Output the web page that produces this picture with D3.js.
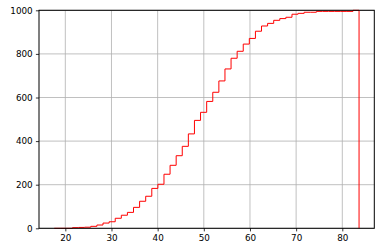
<!DOCTYPE html>
<html>
<head>
<meta charset="utf-8">
<script src="https://cdn.jsdelivr.net/npm/d3@7"></script>
<style>
  html, body { margin: 0; padding: 0; background: #fff; }
  svg { display: block; }
  text { font-family: "DejaVu Sans", sans-serif; font-size: 8.8px; fill: #000; }
</style>
</head>
<body>
<svg id="chart" width="381" height="252"></svg>
<script>
// Bin edges of the cumulative histogram (50 bins)
const binEdges = [17.60, 18.92, 20.24, 21.56, 22.88, 24.20, 25.52, 26.84, 28.16, 29.49,
  30.81, 32.13, 33.45, 34.77, 36.09, 37.41, 38.73, 40.05, 41.37, 42.69,
  44.01, 45.33, 46.65, 47.97, 49.29, 50.62, 51.94, 53.26, 54.58, 55.90,
  57.22, 58.54, 59.86, 61.18, 62.50, 63.82, 65.14, 66.46, 67.78, 69.10,
  70.42, 71.74, 73.07, 74.39, 75.71, 77.03, 78.35, 79.67, 80.99, 82.31, 83.63];
// Cumulative counts per bin
const cumCounts = [0, 0, 0, 3, 4, 5, 9, 15, 24, 30,
  46, 60, 73, 96, 124, 147, 183, 202, 248, 289,
  333, 376, 433, 495, 532, 582, 624, 676, 731, 780,
  812, 845, 871, 904, 928, 940, 954, 962, 968, 982,
  986, 991, 991, 995, 995, 995, 995, 995, 995, 1000];
const xTicks = [20, 30, 40, 50, 60, 70, 80];
const yTicks = [0, 200, 400, 600, 800, 1000];

const svg = d3.select("#chart");
const L = 39, R = 374.3, T = 10.3, B = 228.3;

const e0 = d3.min(binEdges), e1 = d3.max(binEdges);
const m = (e1 - e0) * 0.05;
const x = d3.scaleLinear().domain([e0 - m, e1 + m]).range([L, R]);
const y = d3.scaleLinear().domain([0, 1000]).range([B, T]);

// grid
const g = svg.append("g");
g.selectAll("line.gx").data(xTicks).enter().append("line")
  .attr("x1", d => x(d)).attr("x2", d => x(d)).attr("y1", T).attr("y2", B)
  .attr("stroke", "#b0b0b0").attr("stroke-width", 0.8);
g.selectAll("line.gy").data(yTicks).enter().append("line")
  .attr("x1", L).attr("x2", R).attr("y1", d => y(d)).attr("y2", d => y(d))
  .attr("stroke", "#b0b0b0").attr("stroke-width", 0.8);

// step outline
const pts = [[binEdges[0], 0]];
cumCounts.forEach((c, i) => {
  pts.push([binEdges[i], c]);
  pts.push([binEdges[i + 1], c]);
});
pts.push([binEdges[binEdges.length - 1], 0]);
const line = d3.line().x(d => x(d[0])).y(d => y(d[1]));
svg.append("path").attr("d", line(pts))
  .attr("fill", "none").attr("stroke", "#ff0000").attr("stroke-width", 1.0)
  .attr("stroke-linejoin", "miter");

// axes
const xAxis = d3.axisBottom(x).tickValues(xTicks).tickSize(3.1).tickPadding(3.2).tickFormat(d3.format("d"));
const yAxis = d3.axisLeft(y).tickValues(yTicks).tickSize(3.1).tickPadding(3.2).tickFormat(d3.format("d"));
const gx = svg.append("g").attr("transform", `translate(0,${B})`).call(xAxis);
const gy = svg.append("g").attr("transform", `translate(${L},0)`).call(yAxis);
[gx, gy].forEach(a => {
  a.select(".domain").remove();
  a.selectAll(".tick line").attr("stroke", "#000").attr("stroke-width", 0.8);
  a.selectAll("text").attr("font-family", "DejaVu Sans").attr("font-size", "8.8px").attr("fill", "#000");
});

// spines
svg.append("rect").attr("x", L).attr("y", T).attr("width", R - L).attr("height", B - T)
  .attr("fill", "none").attr("stroke", "#000").attr("stroke-width", 1.0);
</script>
</body>
</html>
